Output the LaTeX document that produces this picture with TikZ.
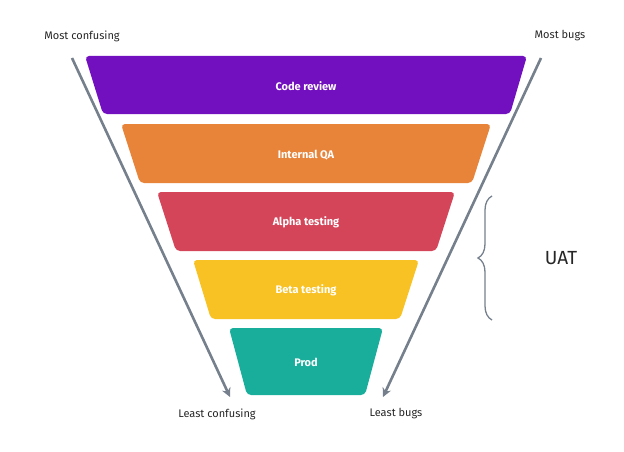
\documentclass[tikz,border=0pt]{standalone}
\usepackage{fontspec}
\setmainfont{Fira Sans}
\usetikzlibrary{arrows.meta,decorations.pathreplacing}
\definecolor{cpur}{HTML}{7210C0}
\definecolor{cora}{HTML}{E8843A}
\definecolor{cred}{HTML}{D4455A}
\definecolor{cyel}{HTML}{F8C224}
\definecolor{ctea}{HTML}{19AE9C}
\definecolor{cgray}{HTML}{75808C}
\begin{document}
\begin{tikzpicture}[x=1pt,y=-1pt,
  tier/.style={rounded corners=4pt},
  tlabel/.style={text=white,font=\bfseries\fontsize{11}{13}\selectfont},
  side/.style={font=\fontsize{11}{13}\selectfont,text=black!85},
  arr/.style={draw=cgray,line width=2.6pt,-{Stealth[length=9pt,width=9pt]}}]
\useasboundingbox (0,0) rectangle (624,452);
\fill[cpur,tier] (85,56) -- (527,56) -- (510,114) -- (103,114) -- cycle;
\fill[cora,tier] (121,124) -- (491,124) -- (472,183) -- (140,183) -- cycle;
\fill[cred,tier] (157,192) -- (455,192) -- (436,251) -- (176,251) -- cycle;
\fill[cyel,tier] (193,260) -- (419,260) -- (400,319) -- (211,319) -- cycle;
\fill[ctea,tier] (229,328) -- (383,328) -- (365,395) -- (247,395) -- cycle;
\node[tlabel] (cr) at (306,86) {Code review};
\node[tlabel] (qa) at (306,155) {Internal QA};
\node[tlabel] (al) at (306,222) {Alpha testing};
\node[tlabel] (be) at (306,290) {Beta testing};
\node[tlabel] (pr) at (306,362) {Prod};
\node[side] (mc) at (82,36) {Most confusing};
\node[side] (mb) at (560,36) {Most bugs};
\node[side] (lc) at (217,414) {Least confusing};
\node[side] (lb) at (396,414) {Least bugs};
\coordinate (l1) at (72,58); \coordinate (l2) at (230,397);
\coordinate (r1) at (541,58); \coordinate (r2) at (383,397);
\draw[arr] (l1) -- (l2);
\draw[arr] (r1) -- (r2);
\coordinate (b1) at (492,196); \coordinate (b2) at (492,320);
\draw[cgray,line width=1.3pt,decorate,decoration={brace,amplitude=14pt}] (b2) -- (b1);
\node[font=\fontsize{19}{22}\selectfont,text=black!85] (uat) at (561,258) {UAT};
\end{tikzpicture}
\end{document}
